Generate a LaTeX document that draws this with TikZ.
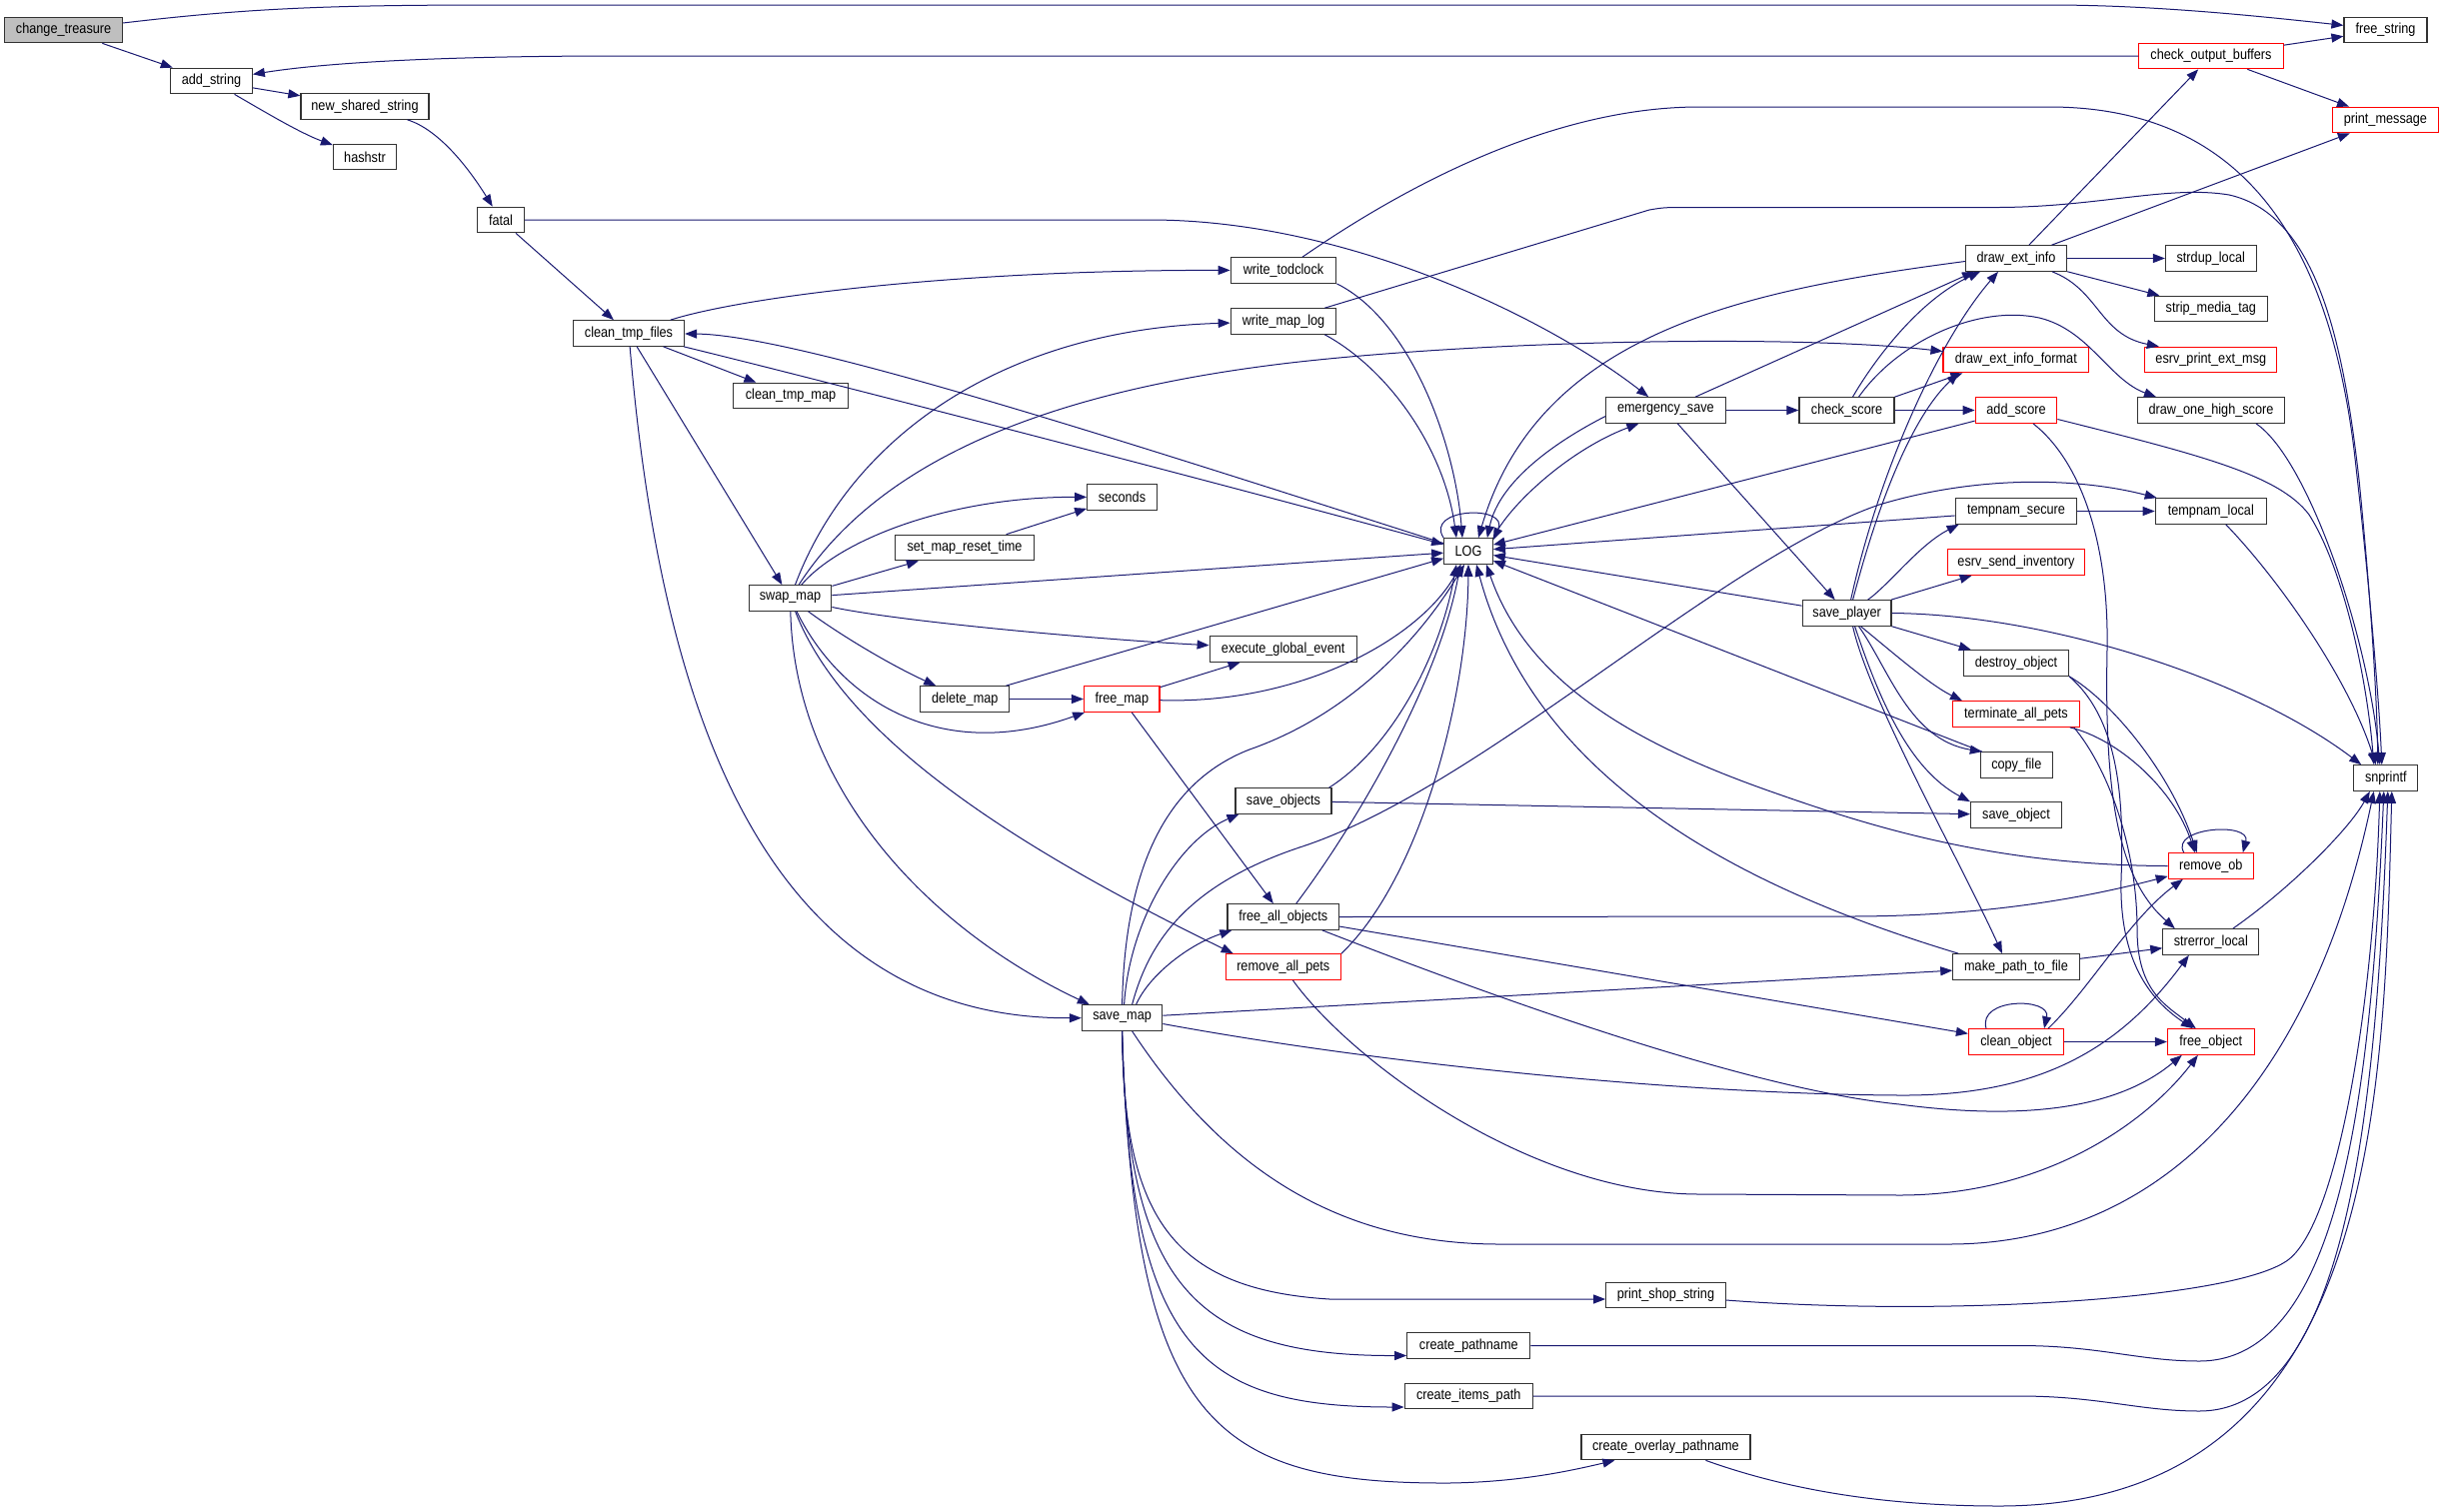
\documentclass[tikz,border=0pt]{standalone}
\usepackage{fontspec}
\setmainfont{Liberation Sans}[FakeStretch=0.875]
\usetikzlibrary{arrows.meta}
\definecolor{edgec}{HTML}{191970}
\begin{document}
\begin{tikzpicture}[x=1pt,y=-1pt,
  box/.style={draw=black!80,line width=1.2pt,fill=white,minimum height=25.5pt,inner sep=0pt,font=\fontsize{14.5}{16}\selectfont},
  redbox/.style={box,draw=red},
  e/.style={draw=edgec,line width=1pt,-{Triangle[length=12pt,width=9pt]}}]
\useasboundingbox (0,0) rectangle (2445,1513);
\fill[white] (0,0) rectangle (2445,1513);
% nodes
\node[box,fill=gray!50,minimum width=118pt] (ct) at (63.6,30) {change\_treasure};
\node[box,minimum width=81.5pt] (as) at (211.5,81) {add\_string};
\node[box,minimum width=128pt] (nss) at (365,106.5) {new\_shared\_string};
\node[box,minimum width=63pt] (hs) at (365,157) {hashstr};
\node[box,minimum width=47pt] (fatal) at (501,220) {fatal};
\node[box,minimum width=111pt] (ctf) at (629,333.5) {clean\_tmp\_files};
\node[box,minimum width=115pt] (ctm) at (791,396) {clean\_tmp\_map};
\node[box,minimum width=82.6pt] (swap) at (790.5,598.5) {swap\_map};
\node[box,minimum width=138.4pt] (smrt) at (965,548) {set\_map\_reset\_time};
\node[box,minimum width=89pt] (dm) at (965.3,699.5) {delete\_map};
\node[box,minimum width=69.5pt] (sec) at (1122.5,497.5) {seconds};
\node[redbox,minimum width=75.5pt] (fm) at (1122.3,699.5) {free\_map};
\node[box,minimum width=80.3pt] (smap) at (1122.6,1018.5) {save\_map};
\node[box,minimum width=105.5pt] (wt) at (1284,270.5) {write\_todclock};
\node[box,minimum width=105.5pt] (wml) at (1284,321.5) {write\_map\_log};
\node[box,minimum width=147pt] (ege) at (1283.7,649.5) {execute\_global\_event};
\node[box,minimum width=96pt] (so) at (1284,801.5) {save\_objects};
\node[box,minimum width=111.5pt] (fao) at (1283.7,917.5) {free\_all\_objects};
\node[redbox,minimum width=115pt] (rap) at (1283.8,967.5) {remove\_all\_pets};
\node[box,minimum width=48.6pt] (LOG) at (1469,551.5) {LOG};
\node[box,minimum width=123pt] (cp) at (1469.3,1346.5) {create\_pathname};
\node[box,minimum width=128pt] (cip) at (1469.2,1397) {create\_items\_path};
\node[box,minimum width=119.4pt] (es) at (1666.4,410.5) {emergency\_save};
\node[box,minimum width=119.4pt] (pss) at (1666.4,1296) {print\_shop\_string};
\node[box,minimum width=169pt] (cop) at (1666.4,1448) {create\_overlay\_pathname};
\node[box,minimum width=95pt] (cs) at (1847.5,410.5) {check\_score};
\node[box,minimum width=88.8pt] (sp) at (1847.6,613.5) {save\_player};
\node[box,minimum width=101pt] (dei) at (2017,258.5) {draw\_ext\_info};
\node[redbox,minimum width=145.5pt] (deif) at (2016.8,360) {draw\_ext\_info\_format};
\node[redbox,minimum width=81.6pt] (ascore) at (2017,410.5) {add\_score};
\node[box,minimum width=121.6pt] (ts) at (2017,511.5) {tempnam\_secure};
\node[redbox,minimum width=137pt] (esi) at (2017,562.5) {esrv\_send\_inventory};
\node[box,minimum width=105pt] (dob) at (2017,663.5) {destroy\_object};
\node[redbox,minimum width=126.3pt] (tap) at (2017,714.5) {terminate\_all\_pets};
\node[box,minimum width=71.8pt] (cf) at (2017.3,765.5) {copy\_file};
\node[box,minimum width=91pt] (sob) at (2017,815.5) {save\_object};
\node[box,minimum width=126.3pt] (mptf) at (2017,967.5) {make\_path\_to\_file};
\node[redbox,minimum width=95pt] (co) at (2017,1042.5) {clean\_object};
\node[redbox,minimum width=144.3pt] (cob) at (2212,56) {check\_output\_buffers};
\node[box,minimum width=90.6pt] (sdl) at (2211.8,258.5) {strdup\_local};
\node[box,minimum width=113.3pt] (smt) at (2211.8,309) {strip\_media\_tag};
\node[redbox,minimum width=132pt] (epem) at (2211.8,360) {esrv\_print\_ext\_msg};
\node[box,minimum width=146.7pt] (dohs) at (2212,410.5) {draw\_one\_high\_score};
\node[box,minimum width=111pt] (tl) at (2211.8,511.5) {tempnam\_local};
\node[redbox,minimum width=85pt] (rob) at (2211.8,866.5) {remove\_ob};
\node[box,minimum width=96pt] (sl) at (2211.8,942.5) {strerror\_local};
\node[redbox,minimum width=86.7pt] (fob) at (2211.8,1042.5) {free\_object};
\node[box,minimum width=83pt] (fs) at (2386.5,30) {free\_string};
\node[redbox,minimum width=105.5pt] (pm) at (2386.4,120) {print\_message};
\node[box,minimum width=64pt] (snp) at (2386.8,778.5) {snprintf};
% edges
\draw[e] (ct) .. controls (250,8) and (330,5) .. (500,5) -- (2050,5) .. controls (2150,5) and (2250,15) .. (fs);
\draw[e] (ct) -- (as);
\draw[e] (as) -- (nss);
\draw[e] (as) .. controls (265,112) and (300,133) .. (hs);
\draw[e] (nss) .. controls (440,130) and (470,170) .. (fatal);
\draw[e] (cob.west) -- (620,56) .. controls (450,56) and (330,62) .. (as);
\draw[e] (cob) -- (fs);
\draw[e] (cob) -- (pm);
\draw[e] (fatal.east) -- (1150,220) .. controls (1350,220) and (1550,320) .. (es);
\draw[e] (fatal) -- (ctf);
\draw[e] (ctf) .. controls (740,298) and (950,270) .. (wt);
\draw[e] (ctf) -- (ctm);
\draw[e] (ctf) .. controls (800,375) and (1200,478) .. (LOG);
\draw[e] (LOG) .. controls (1150,450) and (800,335) .. (ctf);
\draw[e] (ctf) -- (swap);
\draw[e] (ctf) .. controls (660,700) and (760,1020) .. (smap);
\draw[e] (swap) .. controls (850,440) and (1000,330) .. (wml);
\draw[e] (swap) .. controls (880,460) and (1050,390) .. (1300,362) .. controls (1500,340) and (1800,335) .. (deif);
\draw[e] (swap) .. controls (840,540) and (950,497) .. (sec);
\draw[e] (smrt) -- (sec);
\draw[e] (swap) -- (smrt);
\draw[e] (swap) -- (LOG);
\draw[e] (swap) .. controls (900,622) and (1100,640) .. (ege);
\draw[e] (swap) .. controls (840,635) and (890,665) .. (dm);
\draw[e] (swap) .. controls (840,700) and (940,765) .. (fm);
\draw[e] (swap) .. controls (845,740) and (1020,850) .. ([xshift=8pt]rap.north west);
\draw[e] (swap) .. controls (795,790) and (930,930) .. ([xshift=8pt]smap.north west);
\draw[e] (dm) -- (fm);
\draw[e] ([xshift=-4pt]dm.north east) -- (LOG);
\draw[e] (fm) -- (ege);
\draw[e] (fm) .. controls (1300,705) and (1420,640) .. (LOG);
\draw[e] (fm) -- (fao);
\draw[e] ([xshift=2pt]smap.north) .. controls (1130,920) and (1180,840) .. ([xshift=4pt]so.south west);
\draw[e] ([xshift=14pt]smap.north) .. controls (1150,975) and (1190,945) .. ([xshift=5pt]fao.south west);
\draw[e] (smap.north) .. controls (1125,880) and (1160,785) .. (1250,750) .. controls (1350,715) and (1420,640) .. ([xshift=-4pt]LOG.south);
\draw[e] ([xshift=10pt]smap.north) .. controls (1150,940) and (1190,885) .. (1300,848) .. controls (1480,790) and (1720,560) .. (1880,505) .. controls (1980,475) and (2080,478) .. ([xshift=2pt]tl.north west);
\draw[e] (smap) -- (mptf);
\draw[e] ([yshift=-6pt]smap.east) .. controls (1400,1068) and (1700,1095) .. (1900,1096) .. controls (2040,1097) and (2120,1050) .. ([xshift=-22pt]sl.south);
\draw[e] ([xshift=10pt]smap.south) .. controls (1230,1180) and (1350,1245) .. (1500,1245) -- (1950,1245) .. controls (2150,1245) and (2310,1100) .. ([xshift=-12pt]snp.south);
\draw[e] (smap.south) .. controls (1124,1215) and (1170,1290) .. (1330,1300) -- ([yshift=-4pt]pss.west);
\draw[e] (smap.south) .. controls (1127,1290) and (1200,1357) .. ([yshift=-10pt]cp.west);
\draw[e] (smap.south) .. controls (1130,1350) and (1200,1408) .. ([yshift=-11pt]cip.west);
\draw[e] (smap.south) .. controls (1135,1420) and (1210,1485) .. (1450,1484) .. controls (1520,1483) and (1570,1472) .. ([xshift=-51pt]cop.south);
\draw[e] ([xshift=13pt]fao.north) .. controls (1360,820) and (1440,680) .. ([xshift=-8pt]LOG.south);
\draw[e] ([xshift=-3pt]so.north east) .. controls (1390,750) and (1440,660) .. ([xshift=-12pt]LOG.south);
\draw[e] (rap.north east) .. controls (1420,880) and (1468,700) .. (LOG.south);
\draw[e] (rap) .. controls (1350,1060) and (1530,1195) .. (1700,1195) -- (1900,1196) .. controls (2050,1196) and (2150,1120) .. ([xshift=-13pt]fob.south);
\draw[e] (fao.east) -- (1850,917) .. controls (1980,917) and (2080,900) .. ([yshift=3pt]rob.south west);
\draw[e] (fao) -- (co);
\draw[e] ([xshift=39pt]fao.south) .. controls (1500,1000) and (1750,1090) .. (1900,1105) .. controls (2050,1125) and (2130,1100) .. ([xshift=-29pt]fob.south);
\draw[e] (so) -- (sob);
\draw[e] ([xshift=-30pt]co.north) .. controls (1978,998) and (2052,998) .. ([xshift=28pt]co.north);
\draw[e] ([xshift=32pt]co.north) .. controls (2090,990) and (2130,920) .. ([xshift=-28pt]rob.south);
\draw[e] (co) -- (fob);
\draw[e] ([xshift=-27pt]rob.north) .. controls (2170,828) and (2252,822) .. ([xshift=32pt]rob.north);
\draw[e] (rob.west) .. controls (2000,866) and (1880,830) .. (1780,795) .. controls (1650,750) and (1530,690) .. ([xshift=18pt]LOG.south);
\draw[e] ([xshift=6pt]mptf.north west) .. controls (1780,900) and (1540,800) .. ([xshift=8pt]LOG.south);
\draw[e] ([xshift=2pt]cf.north west) -- (LOG);
\draw[e] (sp) -- (LOG);
\draw[e] (ts) -- (LOG);
\draw[e] (ascore) -- (LOG);
\draw[e] ([yshift=-3pt]dei.west) .. controls (1750,290) and (1540,330) .. ([xshift=10pt]LOG.north);
\draw[e] ([yshift=-6pt]es.west) .. controls (1560,440) and (1500,480) .. ([xshift=-6pt]LOG.north east);
\draw[e] (LOG.north east) .. controls (1510,505) and (1570,450) .. ([xshift=-27pt]es.south);
\draw[e] (wt.south east) .. controls (1410,320) and (1455,440) .. ([xshift=-6pt]LOG.north);
\draw[e] ([xshift=-12pt]wml.south east) .. controls (1390,370) and (1445,450) .. ([xshift=-12pt]LOG.north);
\draw[e] (LOG.north west) .. controls (1425,508) and (1510,505) .. ([yshift=-2pt]LOG.north east);
\draw[e] ([xshift=19pt]wt.north) .. controls (1400,190) and (1550,107) .. (1700,107) -- (2050,107) .. controls (2250,107) and (2330,250) .. (2355,450) .. controls (2370,580) and (2380,700) .. ([xshift=-4pt]snp.north);
\draw[e] ([xshift=-12pt]wml.north east) -- (1650,210) .. controls (1665,207.5) .. (1690,207.5) -- (2000,207.5) .. controls (2100,207) and (2170,185) .. (2230,195) .. controls (2320,215) and (2345,350) .. (2360,480) .. controls (2372,600) and (2378,700) .. ([xshift=-8pt]snp.north);
\draw[e] ([xshift=15pt]tl.south) .. controls (2280,580) and (2350,680) .. ([xshift=-10pt]snp.north);
\draw[e] ([xshift=45pt]dohs.south) .. controls (2310,460) and (2370,640) .. ([xshift=-6pt]snp.north);
\draw[e] ([yshift=-9pt]ascore.east) .. controls (2200,455) and (2280,475) .. (2310,515) .. controls (2345,570) and (2368,680) .. ([xshift=-12pt]snp.north);
\draw[e] (sp.east) .. controls (2050,615) and (2250,680) .. ([xshift=8pt]snp.north west);
\draw[e] ([xshift=22pt]sl.north) .. controls (2290,890) and (2350,830) .. ([xshift=-16pt]snp.south);
\draw[e] ([yshift=-5pt]pss.east) .. controls (1950,1318) and (2240,1300) .. (2290,1260) .. controls (2340,1220) and (2375,1000) .. ([xshift=-6pt]snp.south);
\draw[e] (cp.east) -- (2020,1346.5) .. controls (2100,1346.5) and (2140,1362) .. (2200,1362) .. controls (2340,1362) and (2372,1100) .. ([xshift=-2pt]snp.south);
\draw[e] (cip.east) -- (2020,1397) .. controls (2100,1397) and (2140,1412) .. (2200,1412) .. controls (2350,1412) and (2378,1100) .. ([xshift=2pt]snp.south);
\draw[e] ([xshift=40pt]cop.south) .. controls (1800,1495) and (1900,1507) .. (2000,1507) .. controls (2380,1507) and (2385,1100) .. ([xshift=6pt]snp.south);
\draw[e] (es) -- (cs);
\draw[e] (es) -- ([xshift=-42pt]dei.south);
\draw[e] (es) -- (sp);
\draw[e] ([xshift=6pt]cs.north) .. controls (1875,360) and (1920,300) .. ([xshift=-36pt]dei.south);
\draw[e] ([xshift=12pt]cs.north) .. controls (1900,340) and (1980,305) .. (2040,318) .. controls (2090,330) and (2110,380) .. ([xshift=-55pt]dohs.north);
\draw[e] (cs.north east) -- ([xshift=20pt]deif.south west);
\draw[e] (cs) -- (ascore);
\draw[e] ([xshift=4pt]sp.north) .. controls (1880,470) and (1940,340) .. ([xshift=-18pt]dei.south);
\draw[e] ([xshift=6pt]sp.north) .. controls (1885,480) and (1920,410) .. ([xshift=16pt]deif.south west);
\draw[e] ([xshift=21pt]sp.north) .. controls (1890,585) and (1920,545) .. ([xshift=4pt]ts.south west);
\draw[e] (sp) -- (esi);
\draw[e] (sp) -- (dob);
\draw[e] ([xshift=14pt]sp.south) .. controls (1890,650) and (1930,685) .. ([xshift=-54pt]tap.north);
\draw[e] ([xshift=12pt]sp.south) .. controls (1890,670) and (1910,740) .. ([xshift=2pt]cf.north west);
\draw[e] ([xshift=8pt]sp.south) .. controls (1880,700) and (1910,770) .. (sob.north west);
\draw[e] ([xshift=6pt]sp.south) .. controls (1870,700) and (1960,860) .. ([xshift=-14pt]mptf.north);
\draw[e] (dei) -- (cob);
\draw[e] (dei) -- (pm);
\draw[e] (dei) -- (sdl);
\draw[e] (dei) -- (smt);
\draw[e] ([xshift=36pt]dei.south) .. controls (2100,290) and (2100,335) .. ([xshift=-52pt]epem.north);
\draw[e] (ts) -- (tl);
\draw[e] (dob.south east) .. controls (2110,700) and (2170,770) .. ([xshift=-14pt]rob.north);
\draw[e] ([xshift=-10pt]tap.south east) .. controls (2120,740) and (2175,790) .. ([xshift=-16pt]rob.north);
\draw[e] (mptf) -- (sl);
\draw[e] (dob.south east) .. controls (2120,720) and (2125,800) .. (2122,880) .. controls (2120,960) and (2150,1000) .. ([xshift=-18pt]fob.north);
\draw[e] ([xshift=-6pt]tap.south east) .. controls (2110,770) and (2138,850) .. (2138,930) .. controls (2138,990) and (2165,1005) .. ([xshift=-15pt]fob.north);
\draw[e] ([xshift=17pt]ascore.south) .. controls (2080,460) and (2110,540) .. (2108,650) .. controls (2105,800) and (2120,880) .. ([xshift=-36pt]sl.north);
\end{tikzpicture}
\end{document}
